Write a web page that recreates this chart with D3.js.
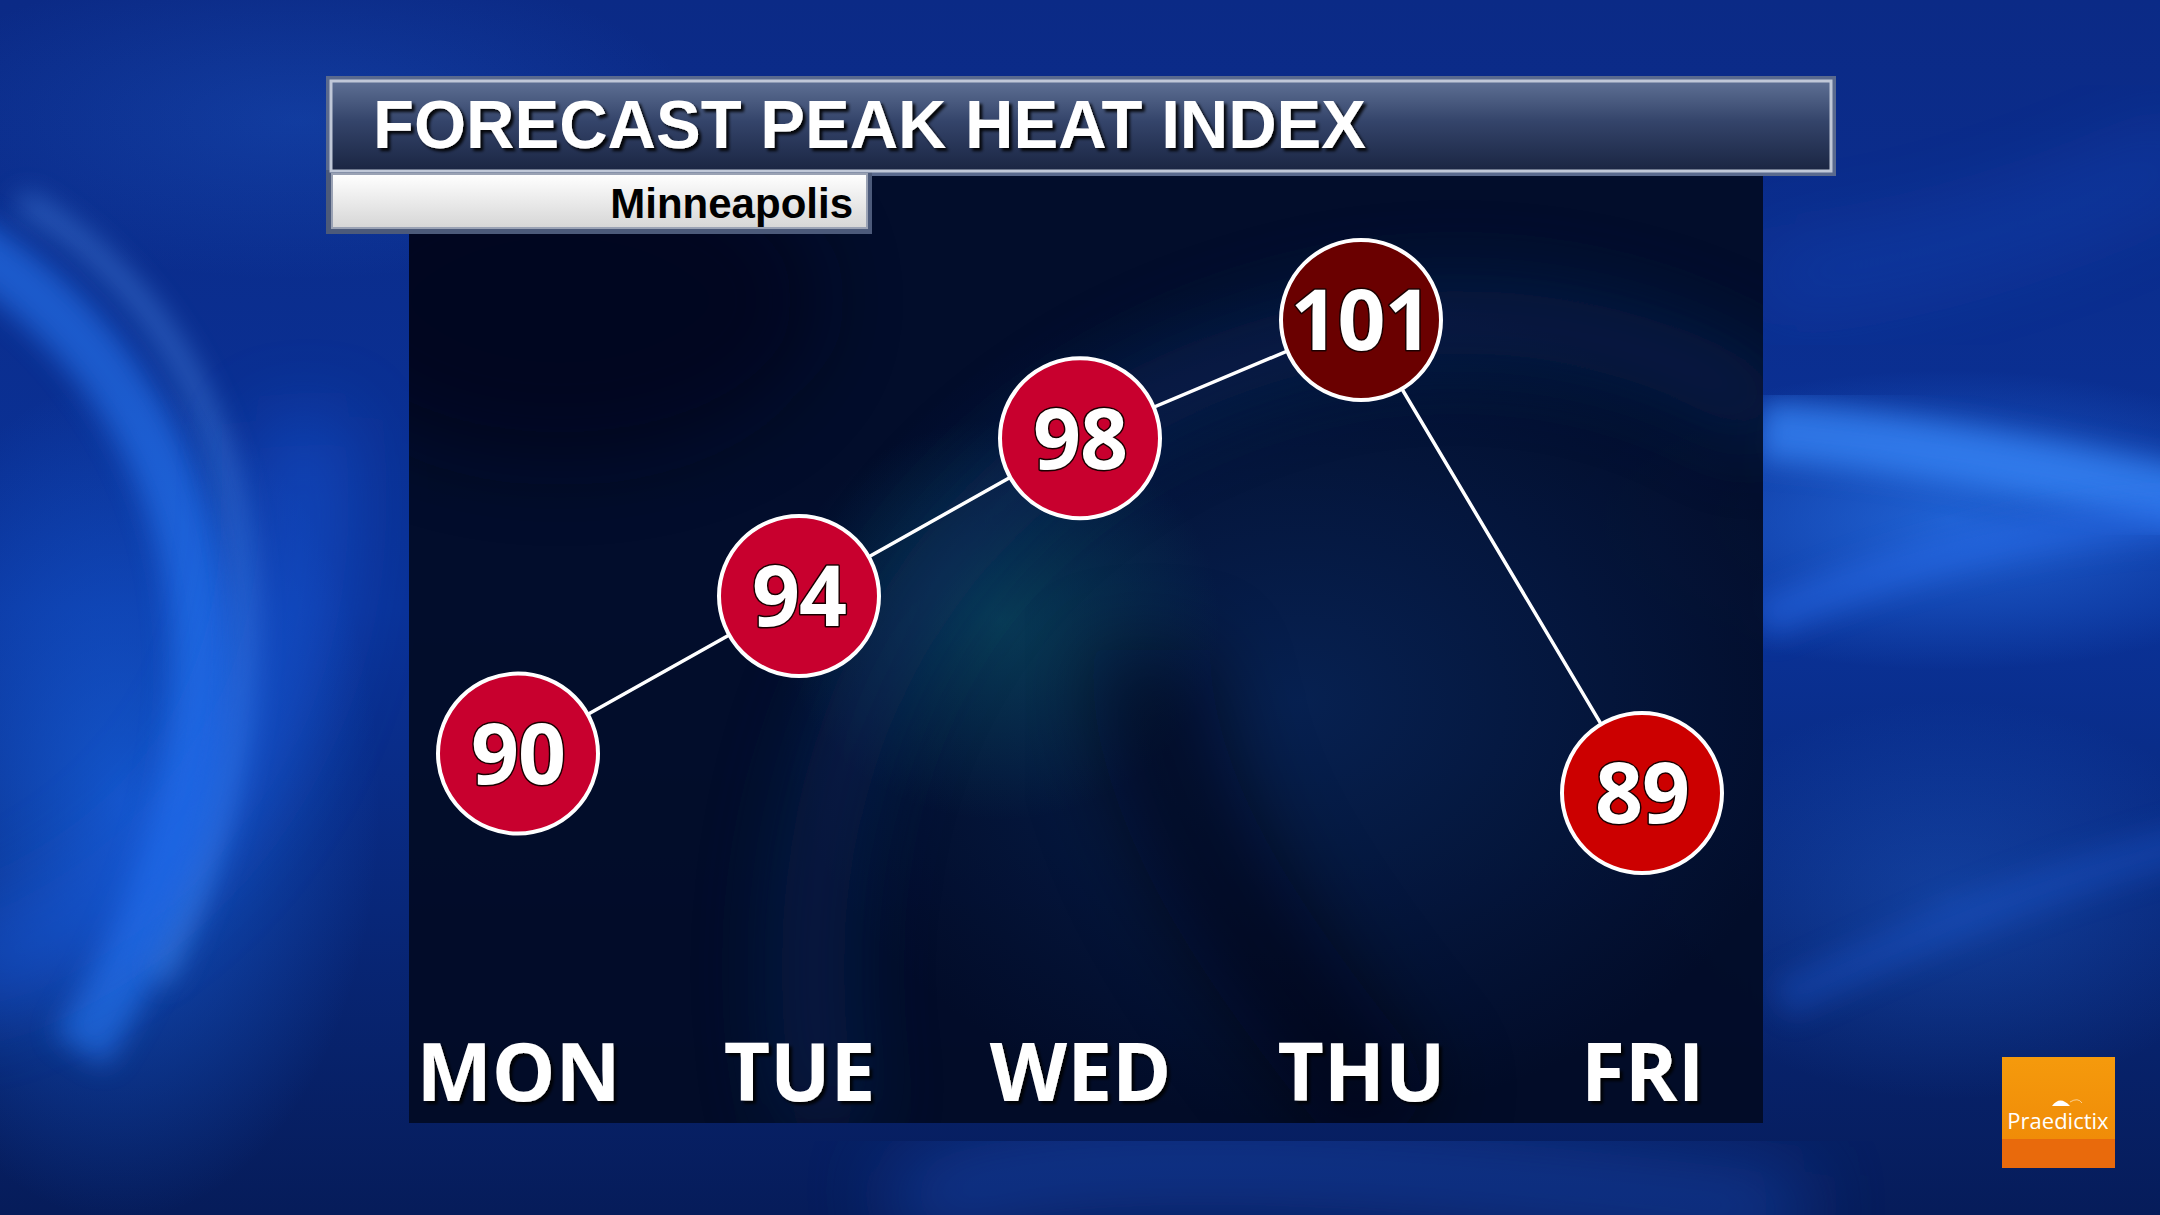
<!DOCTYPE html>
<html><head><meta charset="utf-8">
<script src="https://cdn.jsdelivr.net/npm/d3@7/dist/d3.min.js"></script>
<style>html,body{margin:0;padding:0;background:#0a2a80;overflow:hidden}</style>
</head><body><svg id="c" width="2160" height="1215"></svg>
<script>
const days = ["MON","TUE","WED","THU","FRI"];
const heatIndex = [90, 94, 98, 101, 89];
const title = "FORECAST PEAK HEAT INDEX";
const city = "Minneapolis";
const brand = "Praedictix";

const W = 2160, H = 1215;
const svg = d3.select("#c");
const defs = svg.append("defs");

function lin(id, stops, x1=0,y1=0,x2=0,y2=1){
  const g = defs.append("linearGradient").attr("id",id).attr("x1",x1).attr("y1",y1).attr("x2",x2).attr("y2",y2);
  stops.forEach(s=>g.append("stop").attr("offset",s[0]).attr("stop-color",s[1]).attr("stop-opacity",s[2]===undefined?1:s[2]));
}
function rad(id, stops, cx=0.5, cy=0.5, r=0.5){
  const g = defs.append("radialGradient").attr("id",id).attr("cx",cx).attr("cy",cy).attr("r",r);
  stops.forEach(s=>g.append("stop").attr("offset",s[0]).attr("stop-color",s[1]).attr("stop-opacity",s[2]===undefined?1:s[2]));
}
lin("bg",[[0,"#0b2a86"],[0.5,"#0a3298"],[1,"#061c5a"]]);
rad("glowL",[[0,"#1a6cf0",0.9],[1,"#1a6cf0",0]]);
rad("glowR",[[0,"#2a78f0",0.85],[1,"#2a78f0",0]]);
rad("teal",[[0,"#0c5a6a",0.55],[1,"#0c5a6a",0]]);
rad("panelGlow",[[0,"#0a2e6a",0.6],[1,"#0a2e6a",0]]);
lin("titleBar",[[0,"#5e7094"],[0.45,"#34446a"],[1,"#1a2542"]]);
lin("subBox",[[0,"#ffffff"],[1,"#d6d6d6"]]);
lin("logoTop",[[0,"#f59a0c"],[1,"#f08c08"]]);
defs.append("filter").attr("id","blur40").attr("x","-50%").attr("y","-50%").attr("width","200%").attr("height","200%")
  .append("feGaussianBlur").attr("stdDeviation",40);
defs.append("filter").attr("id","blur15").attr("x","-50%").attr("y","-50%").attr("width","200%").attr("height","200%")
  .append("feGaussianBlur").attr("stdDeviation",14);
const sh = defs.append("filter").attr("id","tshadow").attr("x","-10%").attr("y","-30%").attr("width","120%").attr("height","160%");
sh.append("feDropShadow").attr("dx",3).attr("dy",3).attr("stdDeviation",1.5).attr("flood-color","#000").attr("flood-opacity",0.9);

// background
svg.append("rect").attr("width",W).attr("height",H).attr("fill","url(#bg)");
const bgG = svg.append("g");
bgG.append("ellipse").attr("cx",120).attr("cy",800).attr("rx",260).attr("ry",420).attr("fill","url(#glowL)").attr("opacity",0.7);
bgG.append("ellipse").attr("cx",1950).attr("cy",520).attr("rx",380).attr("ry",150).attr("fill","url(#glowR)").attr("opacity",0.8);
bgG.append("ellipse").attr("cx",1950).attr("cy",900).attr("rx",300).attr("ry",200).attr("fill","url(#glowR)").attr("opacity",0.35);
bgG.append("ellipse").attr("cx",300).attr("cy",120).attr("rx",400).attr("ry",160).attr("fill","url(#glowR)").attr("opacity",0.25);
const streak = (d, w, c, o, f) => bgG.append("path").attr("d",d).attr("fill","none").attr("stroke",c).attr("stroke-width",w).attr("opacity",o).attr("filter",f);
streak("M -40 240 C 200 380, 300 700, 80 1050", 60, "#2a80ff", 0.55, "url(#blur15)");
streak("M 20 200 C 250 330, 320 650, 160 980", 18, "#5aa0ff", 0.5, "url(#blur15)");
streak("M -60 980 C 200 900, 330 700, 300 420", 90, "#1a60e8", 0.45, "url(#blur40)");
streak("M 1760 430 C 1900 440, 2050 470, 2200 500", 60, "#3a8cff", 0.7, "url(#blur15)");
streak("M 1760 620 C 1900 560, 2050 520, 2200 520", 40, "#2a70f0", 0.45, "url(#blur15)");
streak("M 1760 280 C 1950 260, 2100 200, 2200 150", 50, "#1a50c8", 0.4, "url(#blur40)");
streak("M 900 1215 C 1000 1150, 1300 1150, 1800 1215", 80, "#1a50c0", 0.5, "url(#blur40)");
streak("M 1780 1000 C 1950 920, 2050 880, 2200 840", 40, "#1a58d0", 0.35, "url(#blur15)");

// chart panel
const panel = {x0:409, y0:170, x1:1763, y1:1123};
const clip = defs.append("clipPath").attr("id","pclip");
clip.append("rect").attr("x",panel.x0).attr("y",panel.y0).attr("width",panel.x1-panel.x0).attr("height",panel.y1-panel.y0);
svg.append("rect").attr("x",panel.x0).attr("y",panel.y0).attr("width",panel.x1-panel.x0).attr("height",panel.y1-panel.y0)
  .attr("fill","#020b24").attr("opacity",0.93);
const pg = svg.append("g").attr("clip-path","url(#pclip)");
pg.append("ellipse").attr("cx",1300).attr("cy",700).attr("rx",520).attr("ry",420).attr("fill","url(#panelGlow)");
pg.append("ellipse").attr("cx",1000).attr("cy",620).attr("rx",220).attr("ry",200).attr("fill","url(#teal)");
pg.append("path").attr("d","M 830 1130 C 760 800, 900 420, 1350 330 C 1550 300, 1700 360, 1780 420")
  .attr("fill","none").attr("stroke","#0e2d66").attr("stroke-width",70).attr("opacity",0.5).attr("filter","url(#blur40)");
pg.append("path").attr("d","M 1400 1130 C 1250 950, 1150 800, 1150 650")
  .attr("fill","none").attr("stroke","#000410").attr("stroke-width",120).attr("opacity",0.5).attr("filter","url(#blur40)");
pg.append("ellipse").attr("cx",560).attr("cy",300).attr("rx",260).attr("ry",160).attr("fill","#000612").attr("opacity",0.5).attr("filter","url(#blur40)");

// scales
const x = d3.scalePoint().domain(days).range([518, 1642]);
const y = d3.scaleLinear().domain([89, 101]).range([793, 320]);
const color = v => v >= 100 ? "#6a0000" : (v >= 90 ? "#c8002e" : "#cc0000");

const data = days.map((d,i)=>({day:d, v:heatIndex[i]}));

svg.append("path").datum(data)
  .attr("d", d3.line().x(d=>x(d.day)).y(d=>y(d.v)))
  .attr("fill","none").attr("stroke","#ffffff").attr("stroke-width",3.5);

const pts = svg.append("g").selectAll("g").data(data).join("g")
  .attr("transform", d=>`translate(${x(d.day)},${y(d.v)})`);
pts.append("circle").attr("r",80).attr("fill",d=>color(d.v)).attr("stroke","#ffffff").attr("stroke-width",4);
pts.append("text").text(d=>d.v)
  .attr("text-anchor","middle").attr("dy","0.36em")
  .attr("font-family","'Open Sans', sans-serif").attr("font-weight",700).attr("font-size",84)
  .attr("letter-spacing",-1)
  .attr("fill","#ffffff").attr("stroke","#1a0000").attr("stroke-width",3).attr("paint-order","stroke")
  .attr("stroke-linejoin","round");

const xAxis = d3.axisBottom(x).tickSize(0).tickPadding(0);
const ax = svg.append("g").attr("transform","translate(0,1043)").call(xAxis);
ax.select(".domain").remove();
ax.selectAll("text")
  .attr("dy","0.72em").attr("y",0)
  .attr("font-family","'Open Sans', sans-serif").attr("font-weight",700).attr("font-size",80)
  .attr("fill","#ffffff").attr("filter","url(#tshadow)");

// title block
svg.append("rect").attr("x",326).attr("y",76).attr("width",1510).attr("height",100).attr("fill","#5a6a8e");
svg.append("rect").attr("x",326).attr("y",170).attr("width",546).attr("height",64).attr("fill","#4c5a7a");
svg.append("rect").attr("x",331).attr("y",81).attr("width",1500).attr("height",90)
  .attr("fill","url(#titleBar)").attr("stroke","#c0c8d8").attr("stroke-width",3);
svg.append("text").attr("x",373).attr("y",148).text(title)
  .attr("font-family","'Liberation Sans', Arial, sans-serif").attr("font-weight",700).attr("font-size",68)
  .attr("textLength",993).attr("lengthAdjust","spacingAndGlyphs")
  .attr("fill","#ffffff").attr("filter","url(#tshadow)");
svg.append("rect").attr("x",332).attr("y",174).attr("width",535).attr("height",54)
  .attr("fill","url(#subBox)").attr("stroke","#9aa2b4").attr("stroke-width",2);
svg.append("text").attr("x",853).attr("y",218).text(city)
  .attr("text-anchor","end")
  .attr("font-family","'Liberation Sans', Arial, sans-serif").attr("font-weight",700).attr("font-size",42)
  .attr("fill","#000000");

// logo
const lg = svg.append("g").attr("transform","translate(2002,1057)");
lg.append("rect").attr("width",113).attr("height",111).attr("fill","#e96a0c");
lg.append("rect").attr("width",113).attr("height",82).attr("fill","url(#logoTop)");
lg.append("text").attr("x",56).attr("y",72).text(brand).attr("text-anchor","middle")
  .attr("font-family","'Open Sans', sans-serif").attr("font-size",22).attr("fill","#ffffff");
lg.append("path").attr("d","M 50 49 Q 58 38 68 49 Z").attr("fill","#ffffff");
lg.append("path").attr("d","M 68 45 Q 76 40 80 46").attr("fill","none").attr("stroke","#ffffff").attr("stroke-width",0.8).attr("opacity",0.7);
</script></body></html>
